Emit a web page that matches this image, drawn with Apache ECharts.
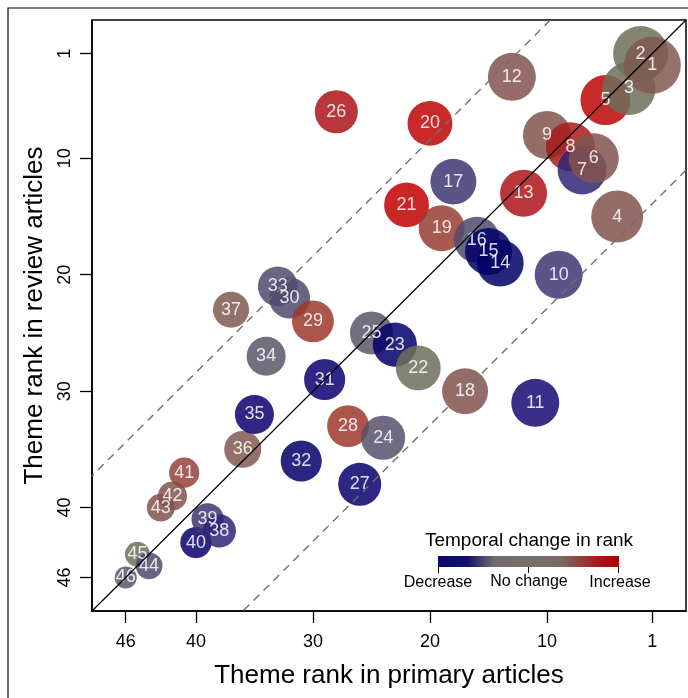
<!DOCTYPE html>
<html><head><meta charset="utf-8">
<script src="https://cdn.jsdelivr.net/npm/echarts@6/dist/echarts.min.js"></script>
<style>html,body{margin:0;padding:0;background:#fff}#c{width:688px;height:698px}</style>
</head><body><div id="c"></div>
<script>
// ---- data ----
const themeLabels = [1,2,3,4,5,6,7,8,9,10,11,12,13,14,15,16,17,18,19,20,21,22,23,24,25,26,27,28,29,30,31,32,33,34,35,36,37,38,39,40,41,42,43,44,45,46];
const primaryRank = [1,2,3,4,5,6,7,8,10,9,11,13,12,14,15,16,18,17,19,20,22,21,23,24,25,28,26,27,30,32,29,31,33,34,35,36,37,38,39,40,41,42,43,44,45,46];
const reviewRank  = [2,1,4,15,5,10,11,9,8,20,31,3,13,19,18,17,12,30,16,7,14,28,26,34,25,6,38,33,24,22,29,36,21,27,32,35,23,42,41,43,37,39,40,45,44,46];
const themeWeight = [100,93,87,83,77,77,74,74,71,71,71,71,68,68,68,65,65,65,65,62,62,62,60,60,57,57,57,54,54,52,52,52,49,47,47,42,40,34,32,30,28,26,24,22,19,15];
const rankChange  = [0.2,0,0,0.25,0.95,0.25,-0.55,0.7,0.25,-0.45,-0.7,0.25,0.75,-1,-1,-0.3,-0.45,0.25,0.45,0.95,1,0,-0.95,-0.25,-0.2,0.75,-0.85,0.5,0.5,-0.3,-0.8,-0.95,-0.3,-0.2,-0.8,0.2,0.2,-0.55,-0.45,-0.85,0.4,0.25,0.25,-0.3,0,-0.2];
const tickValues = [1,10,20,30,40,46];
const axisMin = -1.88, axisMax = 48.88;
const upperOffset = 11.6, lowerOffset = 12.9;

const FONT = 'Liberation Sans, Arial, sans-serif';
const maxW = Math.max(...themeWeight);
const points = [];
for (let i = themeLabels.length - 1; i >= 0; i--) {
  points.push([primaryRank[i], reviewRank[i], rankChange[i], themeWeight[i], themeLabels[i]]);
}

const chart = echarts.init(document.getElementById('c'), null, {renderer: 'canvas'});
const axisCommon = {
  type: 'value', inverse: true, min: axisMin, max: axisMax,
  splitLine: {show: false},
  axisLine: {show: true, onZero: false, lineStyle: {color: '#000', width: 1.5}},
  axisTick: {show: true, customValues: tickValues, length: 12, inside: false, lineStyle: {color: '#000', width: 1.3}},
  axisLabel: {customValues: tickValues, color: '#000', fontSize: 18, fontFamily: FONT, margin: 22},
  nameLocation: 'middle',
  nameTextStyle: {color: '#000', fontSize: 26, fontFamily: FONT}
};
const option = {
  backgroundColor: '#fff',
  animation: false,
  grid: {left: 92, top: 20, width: 594, height: 591, show: true, borderColor: '#000', borderWidth: 1.5, backgroundColor: 'transparent'},
  xAxis: Object.assign({}, axisCommon, {name: 'Theme rank in primary articles', nameGap: 52}),
  yAxis: Object.assign({}, axisCommon, {name: 'Theme rank in review articles', nameGap: 42,
    axisLabel: Object.assign({}, axisCommon.axisLabel, {rotate: 90, margin: 18})}),
  visualMap: {
    show: false, type: 'continuous', seriesIndex: 0, dimension: 2, min: -1, max: 1,
    inRange: {color: ['#000066', '#0e0072', '#373075', '#57506c', '#6f6f5a', '#83544d', '#9d372b', '#ad1417', '#c20000']}
  },
  series: [
    {
      type: 'scatter', z: 2,
      data: points,
      symbolSize: v => 57 * Math.sqrt(v[3] / maxW),
      itemStyle: {opacity: 0.85},
      label: {show: true, position: 'inside', formatter: p => p.value[4], color: '#fff', fontSize: 18, fontFamily: FONT},
      emphasis: {disabled: true}
    },
    {
      type: 'line', z: 3, symbol: 'none', silent: true,
      data: [[axisMin, axisMin], [axisMax, axisMax]],
      lineStyle: {color: '#000', width: 1.2}
    },
    {
      type: 'line', z: 3, symbol: 'none', silent: true,
      data: [[axisMin + upperOffset, axisMin], [axisMax, axisMax - upperOffset]],
      lineStyle: {color: '#707070', width: 1.4, type: [8, 6]}
    },
    {
      type: 'line', z: 3, symbol: 'none', silent: true,
      data: [[axisMin, axisMin + lowerOffset], [axisMax - lowerOffset, axisMax]],
      lineStyle: {color: '#707070', width: 1.4, type: [8, 6]}
    }
  ],
  graphic: [
    {type: 'rect', shape: {x: 8, y: 8, width: 700, height: 700}, style: {fill: 'none', stroke: '#000', lineWidth: 1.2}, silent: true},
    {type: 'text', x: 529, y: 541, style: {text: 'Temporal change in rank', fontSize: 19, fontFamily: FONT, fill: '#000', align: 'center', verticalAlign: 'middle'}},
    {type: 'rect', shape: {x: 438, y: 556, width: 181, height: 11},
      style: {fill: new echarts.graphic.LinearGradient(0, 0, 1, 0, [
        {offset: 0, color: '#0a0a6e'}, {offset: 0.16, color: '#10106e'}, {offset: 0.31, color: '#726a68'},
        {offset: 0.5, color: '#76706a'}, {offset: 0.68, color: '#7a6a66'}, {offset: 0.9, color: '#a81414'}, {offset: 1, color: '#b00000'}])}},
    {type: 'line', shape: {x1: 438.5, y1: 567, x2: 438.5, y2: 573}, style: {stroke: '#000', lineWidth: 1}},
    {type: 'line', shape: {x1: 528.5, y1: 567, x2: 528.5, y2: 573}, style: {stroke: '#000', lineWidth: 1}},
    {type: 'line', shape: {x1: 618.5, y1: 567, x2: 618.5, y2: 573}, style: {stroke: '#000', lineWidth: 1}},
    {type: 'text', x: 438, y: 583, style: {text: 'Decrease', fontSize: 16, fontFamily: FONT, fill: '#000', align: 'center', verticalAlign: 'middle'}},
    {type: 'text', x: 529, y: 582, style: {text: 'No change', fontSize: 16, fontFamily: FONT, fill: '#000', align: 'center', verticalAlign: 'middle'}},
    {type: 'text', x: 620, y: 583, style: {text: 'Increase', fontSize: 16, fontFamily: FONT, fill: '#000', align: 'center', verticalAlign: 'middle'}}
  ]
};
chart.setOption(option);
</script></body></html>
